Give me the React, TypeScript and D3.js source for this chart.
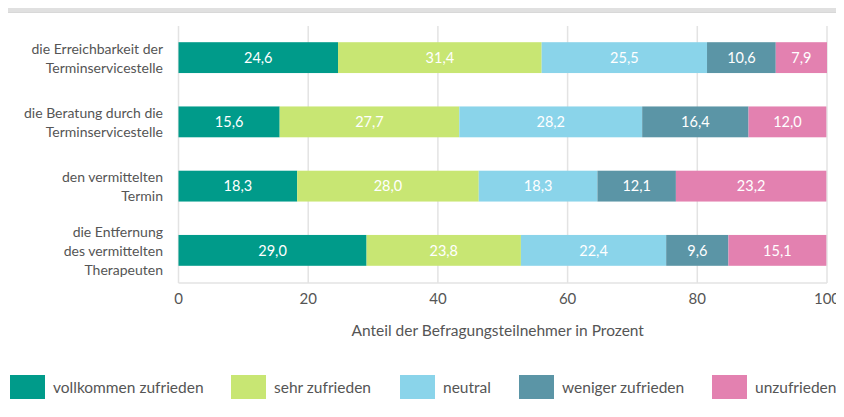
import { useEffect, useRef } from 'react';
import * as d3 from 'd3';

const categories = [
  ['die Erreichbarkeit der', 'Terminservicestelle'],
  ['die Beratung durch die', 'Terminservicestelle'],
  ['den vermittelten', 'Termin'],
  ['die Entfernung', 'des vermittelten', 'Therapeuten'],
];
const seriesNames = ['vollkommen zufrieden', 'sehr zufrieden', 'neutral', 'weniger zufrieden', 'unzufrieden'];
const seriesColors = ['#009b8a', '#c8e673', '#8ad4ea', '#5b95a6', '#e381b0'];
const vollkommen = [24.6, 15.6, 18.3, 29.0];
const sehr = [31.4, 27.7, 28.0, 23.8];
const neutral = [25.5, 28.2, 18.3, 22.4];
const weniger = [10.6, 16.4, 12.1, 9.6];
const unzufrieden = [7.9, 12.0, 23.2, 15.1];
const xTicks = [0, 20, 40, 60, 80, 100];
const axisTitle = 'Anteil der Befragungsteilnehmer in Prozent';

const FONT = 'Lato, sans-serif';

export default function App() {
  const svgRef = useRef<SVGSVGElement>(null);

  useEffect(() => {
    const svg = d3.select(svgRef.current);
    svg.selectAll('*').remove();

    const W = 844, H = 417;
    const margin = { top: 26, left: 178.5, right: 17, bottom: 134 };
    const series = [vollkommen, sehr, neutral, weniger, unzufrieden];
    const rows = categories.map((c, i) => {
      const r: any = { idx: i };
      seriesNames.forEach((s, j) => (r[s] = series[j][i]));
      return r;
    });
    const stacked = d3.stack().keys(seriesNames)(rows);

    const x = d3.scaleLinear().domain([0, 100]).range([margin.left, W - margin.right]);
    const y = d3.scaleBand<number>().domain(d3.range(categories.length)).range([margin.top, H - margin.bottom]).paddingInner(0.52).paddingOuter(0.26);

    // top strip
    svg.append('rect').attr('x', 7.5).attr('y', 4.5).attr('width', 832).attr('height', 8)
      .attr('fill', '#e0e0e0').attr('stroke', '#d8d8d8');

    // grid
    svg.append('g').selectAll('line').data(xTicks).enter().append('line')
      .attr('x1', d => x(d)).attr('x2', d => x(d))
      .attr('y1', margin.top).attr('y2', H - margin.bottom)
      .attr('stroke', '#e3e3e3').attr('stroke-width', 1.5);
    svg.append('line').attr('x1', x(0)).attr('x2', x(100))
      .attr('y1', H - margin.bottom).attr('y2', H - margin.bottom)
      .attr('stroke', '#e3e3e3').attr('stroke-width', 1.5);

    // bars
    const g = svg.append('g');
    stacked.forEach((layer, j) => {
      g.selectAll(null).data(layer).enter().append('rect')
        .attr('x', d => x(d[0])).attr('width', d => x(d[1]) - x(d[0]))
        .attr('y', (d, i) => y(i)! - 0.5).attr('height', y.bandwidth())
        .attr('fill', seriesColors[j]);
      g.selectAll(null).data(layer).enter().append('text')
        .attr('x', d => (x(d[0]) + x(d[1])) / 2)
        .attr('y', (d, i) => y(i)! - 0.5 + y.bandwidth() / 2)
        .attr('dy', '0.36em').attr('text-anchor', 'middle')
        .attr('fill', '#fff').attr('font-size', 14.5).attr('font-family', FONT)
        .text((d, i) => d3.format('.1f')(series[j][i]).replace('.', ','));
    });

    // category labels
    categories.forEach((lines, i) => {
      const cy = y(i)! + y.bandwidth() / 2;
      const lh = 19;
      const t = svg.append('text').attr('text-anchor', 'end').attr('fill', '#555')
        .attr('font-size', 14).attr('font-family', FONT);
      lines.forEach((l, k) => {
        t.append('tspan').attr('x', 163)
          .attr('y', cy + (k - (lines.length - 1) / 2) * lh).attr('dy', '0.36em').text(l);
      });
    });

    // x tick labels
    svg.append('g').selectAll('text').data(xTicks).enter().append('text')
      .attr('x', d => x(d)).attr('y', H - margin.bottom + 16).attr('dy', '0.36em')
      .attr('text-anchor', 'middle').attr('fill', '#555').attr('font-size', 15).attr('font-family', FONT)
      .text(d => d);

    svg.append('text').attr('x', (x(0) + x(100)) / 2 - 5).attr('y', 330).attr('dy', '0.36em')
      .attr('text-anchor', 'middle').attr('fill', '#555').attr('font-size', 15.5).attr('font-family', FONT)
      .text(axisTitle);

    // legend
    const legendX = [10, 231, 400, 519, 712];
    const lg = svg.append('g');
    seriesNames.forEach((s, j) => {
      lg.append('rect').attr('x', legendX[j]).attr('y', 375).attr('width', 35).attr('height', 24)
        .attr('fill', seriesColors[j]);
      lg.append('text').attr('x', legendX[j] + 43).attr('y', 387).attr('dy', '0.36em')
        .attr('fill', '#555').attr('font-size', 15.5).attr('font-family', FONT).text(s);
    });
  }, []);

  return (
    <div style={{ margin: -8 }}>
      <svg ref={svgRef} width={844} height={417} style={{ display: 'block' }} />
    </div>
  );
}
